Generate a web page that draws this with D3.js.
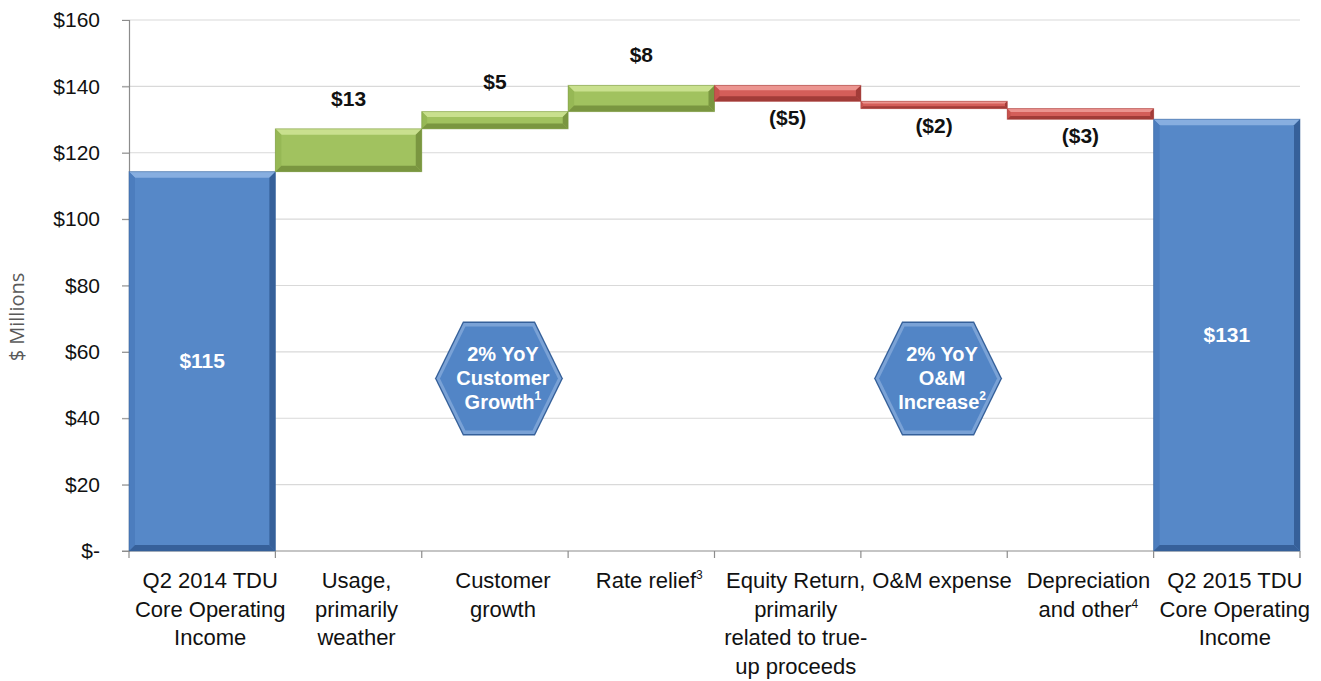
<!DOCTYPE html>
<html>
<head>
<meta charset="utf-8">
<script src="https://cdn.jsdelivr.net/npm/d3@7"></script>
<style>
  body { margin: 0; background: #fff; }
  svg { display: block; }
</style>
</head>
<body>
<div id="chart"></div>
<script>
// waterfall data
const categories = ["q2_2014", "usage", "customer", "rate", "equity", "om", "dep", "q2_2015"];
const categoryLines = [
  ["Q2 2014 TDU", "Core Operating", "Income"],
  ["Usage,", "primarily", "weather"],
  ["Customer", "growth"],
  ["Rate relief|3"],
  ["Equity Return,", "primarily", "related to true-", "up proceeds"],
  ["O&M expense"],
  ["Depreciation", "and other|4"],
  ["Q2 2015 TDU", "Core Operating", "Income"]
];
const kinds = ["total", "up", "up", "up", "down", "down", "down", "total"];
const values = [114.3, 12.9, 5.2, 7.9, -4.8, -2.2, -3.2, 130.1];
const valueLabels = ["$115", "$13", "$5", "$8", "($5)", "($2)", "($3)", "$131"];
const yTicks = [0, 20, 40, 60, 80, 100, 120, 140, 160];
const callouts = [
  { at: "customer", v: 52, lines: ["2% YoY", "Customer", "Growth|1"] },
  { at: "om", v: 52, lines: ["2% YoY", "O&M", "Increase|2"] }
];

const width = 1321, height = 681;
const margin = { left: 129, right: 21, top: 20, bottom: 130 };

const colors = {
  total: { face: "#5688C8", light: "#87AEE0", dark: "#36609A", side: "#4C7DBE" },
  up:    { face: "#A1C25F", light: "#C9E08E", dark: "#7A9640", side: "#96B855" },
  down:  { face: "#D45E59", light: "#EC9590", dark: "#A23C38", side: "#C8534E" }
};

const svg = d3.select("#chart").append("svg")
  .attr("width", width).attr("height", height);

const x = d3.scaleBand()
  .domain(categories)
  .range([margin.left, width - margin.right])
  .paddingInner(0).paddingOuter(0);

const y = d3.scaleLinear()
  .domain([0, 160])
  .range([height - margin.bottom, margin.top]);

// running totals
let run = 0;
const bars = categories.map((c, i) => {
  let lo, hi;
  if (kinds[i] === "total") { lo = 0; hi = values[i]; run = values[i]; }
  else { const nxt = run + values[i]; lo = Math.min(run, nxt); hi = Math.max(run, nxt); run = nxt; }
  return { cat: c, kind: kinds[i], lo, hi, label: valueLabels[i], val: values[i] };
});

// gridlines
svg.append("g")
  .selectAll("line")
  .data(yTicks)
  .enter().append("line")
  .attr("x1", margin.left - 7).attr("x2", width - margin.right)
  .attr("y1", d => y(d)).attr("y2", d => y(d))
  .attr("stroke", d => d === 0 ? "#8C8C8C" : "#D9D9D9")
  .attr("stroke-width", 1.2);

const font = "'Liberation Sans', Arial, sans-serif";

// y axis
const yAxis = svg.append("g")
  .attr("transform", `translate(${margin.left},0)`)
  .call(d3.axisLeft(y).tickValues(yTicks).tickSize(7).tickPadding(22)
    .tickFormat(d => d === 0 ? "$-" : "$" + d));
yAxis.select(".domain").attr("stroke", "#8C8C8C").attr("stroke-width", 1.2);
yAxis.selectAll(".tick line").attr("stroke", "#8C8C8C");
yAxis.selectAll("text")
  .attr("font-family", font)
  .attr("font-size", 21).attr("fill", "#111");

svg.append("text")
  .attr("transform", `translate(24,${y(70.5)}) rotate(-90)`)
  .attr("text-anchor", "middle")
  .attr("font-family", "'Open Sans', sans-serif")
  .attr("font-size", 20)
  .attr("fill", "#595959")
  .text("$ Millions");

// bevelled bar
function bevelRect(g, x0, y0, w, h, col) {
  const x1 = x0 + w, y1 = y0 + h;
  const b = Math.max(1.5, Math.min(6, h / 3.2, w / 3.2));
  g.append("rect").attr("x", x0).attr("y", y0).attr("width", w).attr("height", h).attr("fill", col.face);
  const poly = (pts, fill) => g.append("polygon").attr("points", pts.map(p => p.join(",")).join(" ")).attr("fill", fill);
  poly([[x0, y0], [x1, y0], [x1 - b, y0 + b], [x0 + b, y0 + b]], col.light);
  poly([[x0, y0], [x0 + b, y0 + b], [x0 + b, y1 - b], [x0, y1]], col.side);
  poly([[x1, y0], [x1, y1], [x1 - b, y1 - b], [x1 - b, y0 + b]], col.dark);
  poly([[x0, y1], [x1, y1], [x1 - b, y1 - b], [x0 + b, y1 - b]], col.dark);
  g.append("rect").attr("x", x0).attr("y", y0).attr("width", w).attr("height", h)
    .attr("fill", "none").attr("stroke", col.dark).attr("stroke-opacity", 0.5).attr("stroke-width", 1);
}

const barG = svg.append("g");
bars.forEach(d => {
  const g = barG.append("g");
  bevelRect(g, x(d.cat), y(d.hi), x.bandwidth(), y(d.lo) - y(d.hi), colors[d.kind]);
});

// x axis ticks
const xAxisG = svg.append("g");
const bounds = categories.map(c => x(c)).concat([x.range()[1]]);
xAxisG.selectAll("line")
  .data(bounds)
  .enter().append("line")
  .attr("x1", d => d).attr("x2", d => d)
  .attr("y1", y(0)).attr("y2", y(0) + 7)
  .attr("stroke", "#8C8C8C").attr("stroke-width", 1.2);

// category labels
function addLine(t, str, supSize) {
  const parts = str.split("|");
  t.append("tspan").text(parts[0]);
  if (parts[1]) {
    t.append("tspan").attr("font-size", supSize).attr("dy", -9).text(parts[1]);
  }
}
categories.forEach((c, i) => {
  categoryLines[i].forEach((ln, j) => {
    const t = svg.append("text")
      .attr("x", x(c) + x.bandwidth() / 2 + 8)
      .attr("y", y(0) + 37 + j * 28.5)
      .attr("text-anchor", "middle")
      .attr("font-family", font)
      .attr("font-size", 22)
      .attr("fill", "#111");
    addLine(t, ln, 12);
  });
});

// value labels
bars.forEach(d => {
  const cx = x(d.cat) + x.bandwidth() / 2;
  const t = svg.append("text")
    .attr("x", cx)
    .attr("text-anchor", "middle")
    .attr("font-family", font)
    .attr("font-weight", "bold")
    .attr("font-size", 21)
    .text(d.label);
  if (d.kind === "total") {
    t.attr("y", y((d.lo + d.hi) / 2) + 7).attr("fill", "#fff");
  } else if (d.kind === "up") {
    t.attr("y", y(d.hi) - 23).attr("fill", "#111");
  } else {
    t.attr("y", y(d.lo) + 24).attr("fill", "#111");
  }
});

// hexagon callouts
callouts.forEach(c => {
  const cx = x(c.at) + x.bandwidth() / 2 + 4;
  const cy = y(c.v);
  const hw = 64, hh = 57, tw = 36;
  const hex = (s) => [[cx - hw + s, cy], [cx - tw + s * 0.5, cy - hh + s], [cx + tw - s * 0.5, cy - hh + s],
    [cx + hw - s, cy], [cx + tw - s * 0.5, cy + hh - s], [cx - tw + s * 0.5, cy + hh - s]]
    .map(p => p.join(",")).join(" ");
  const g = svg.append("g");
  g.append("polygon").attr("points", hex(0)).attr("fill", "#35609A");
  g.append("polygon").attr("points", hex(1.5)).attr("fill", "#7AA2D6");
  g.append("polygon").attr("points", hex(5)).attr("fill", "#5285C6");
  c.lines.forEach((ln, j) => {
    const t = g.append("text")
      .attr("x", cx + 4)
      .attr("y", cy - 17 + j * 24)
      .attr("text-anchor", "middle")
      .attr("font-family", font)
      .attr("font-weight", "bold")
      .attr("font-size", 20)
      .attr("fill", "#fff");
    addLine(t, ln, 12);
  });
});
</script>
</body>
</html>
